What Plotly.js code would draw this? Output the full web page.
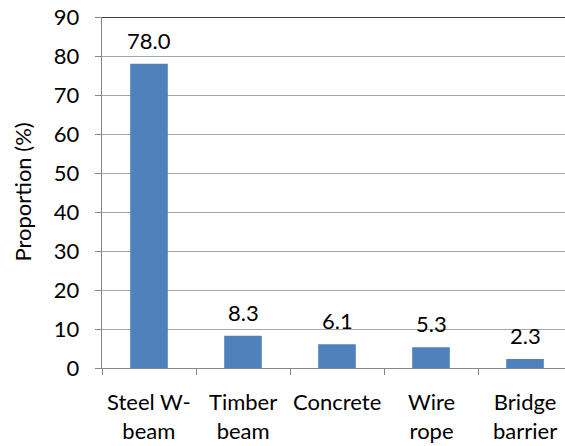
<!DOCTYPE html>
<html><head><meta charset="utf-8">
<script src="https://cdn.plot.ly/plotly-3.0.1.min.js"></script>
<style>html,body{margin:0;padding:0;overflow:hidden;background:#fff}#c{width:575px;height:446px}</style>
</head><body><div id="c"></div>
<script>
const categories = ["Steel W-<br>beam", "Timber<br>beam", "Concrete", "Wire<br>rope", "Bridge<br>barrier"];
const values = [78.0, 8.3, 6.1, 5.3, 2.3];
const valueLabels = ["78.0", "8.3", "6.1", "5.3", "2.3"];
const yTicks = [0, 10, 20, 30, 40, 50, 60, 70, 80, 90];
const yTitle = "Proportion (%)";

const font = {family: "Lato, 'Open Sans', sans-serif", size: 22, color: "#000"};
const pad = "\u00a0\u00a0";

const trace = {
  type: "bar", x: categories, y: values,
  marker: {color: "#4F81BD", line: {width: 0}},
  hoverinfo: "none"
};

const valueAnnotations = categories.map((c, i) => ({
  x: c, y: values[i], xref: "x", yref: "y", text: valueLabels[i],
  showarrow: false, yanchor: "bottom", yshift: 8, font: font
}));
const categoryAnnotations = categories.map(c => ({
  x: c, y: 0, xref: "x", yref: "paper", text: c,
  showarrow: false, yanchor: "top", yshift: -18, font: font
}));
const titleAnnotation = {
  x: 0, y: 0.5, xref: "paper", yref: "paper", xshift: -80, text: yTitle,
  textangle: -90, showarrow: false, xanchor: "center", yanchor: "middle", font: font
};

const layout = {
  width: 575, height: 446,
  margin: {l: 102, r: 3, t: 17, b: 78},
  paper_bgcolor: "#fff", plot_bgcolor: "#fff",
  font: font, showlegend: false, bargap: 0.6,
  xaxis: {
    type: "category", tickson: "boundaries", ticks: "outside", ticklen: 6,
    tickcolor: "#868686", showline: true, linecolor: "#868686", linewidth: 1,
    showgrid: false, zeroline: false, showticklabels: false, automargin: false
  },
  yaxis: {
    range: [0, 90], tickvals: yTicks, ticktext: yTicks.map(v => String(v) + pad),
    ticks: "outside", ticklen: 6, tickcolor: "#868686",
    showline: true, linecolor: "#868686", linewidth: 1,
    showgrid: true, gridcolor: "#a6a6a6", gridwidth: 1, zeroline: false,
    tickfont: font, automargin: false
  },
  shapes: [{type: "line", xref: "paper", yref: "y", x0: 0, x1: 1, y0: 90, y1: 90,
            line: {color: "#000", width: 1.5}}],
  annotations: valueAnnotations.concat(categoryAnnotations, [titleAnnotation])
};

Plotly.newPlot("c", [trace], layout, {staticPlot: true, displayModeBar: false});
</script></body></html>
